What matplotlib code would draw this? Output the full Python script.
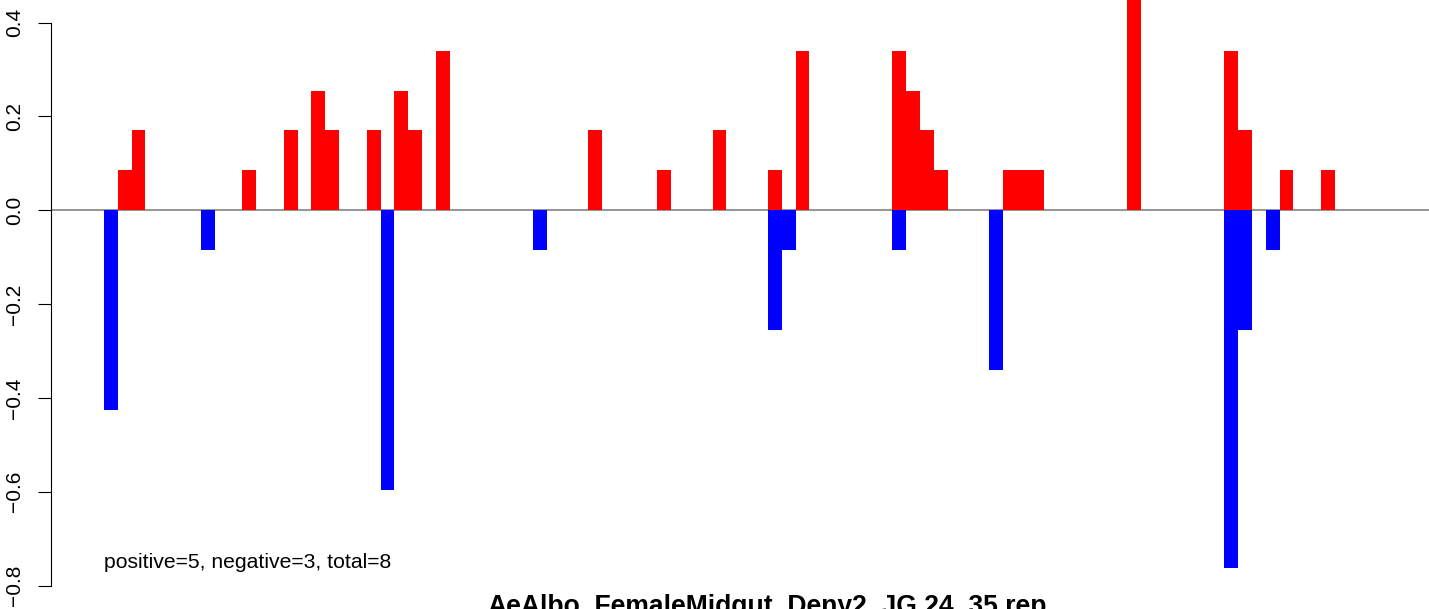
import matplotlib
matplotlib.use("Agg")
import matplotlib.pyplot as plt

plt.rcParams['font.family'] = ['Liberation Sans', 'DejaVu Sans']

# bar slots (one unit per bin) and their values
pos_idx = [1, 2, 10, 13, 15, 16, 19, 21, 22, 24, 35, 40, 44, 48, 50,
           57, 58, 59, 60, 65, 66, 67, 74, 81, 82, 85, 88]
pos_val = [0.085, 0.17, 0.085, 0.17, 0.255, 0.17, 0.17, 0.255, 0.17, 0.34,
           0.17, 0.085, 0.17, 0.085, 0.34, 0.34, 0.255, 0.17, 0.085,
           0.085, 0.085, 0.085, 0.51, 0.34, 0.17, 0.085, 0.085]
neg_idx = [0, 7, 20, 31, 48, 49, 57, 64, 81, 82, 84]
neg_val = [-0.426, -0.085, -0.597, -0.085, -0.256, -0.085, -0.085,
           -0.341, -0.763, -0.256, -0.085]
yticks = [-0.8, -0.6, -0.4, -0.2, 0.0, 0.2, 0.4]
note = "positive=5, negative=3, total=8"
title = "AeAlbo_FemaleMidgut_Deny2_JG.24_35.rep"

W, H = 1429, 609
fig = plt.figure(figsize=(W / 100, H / 100), dpi=100)
ax = fig.add_axes([51 / W, 0, (W - 51) / W, 1])

ax.axhline(0, color='#8c8c8c', lw=1.3, zorder=1)
ax.bar(pos_idx, pos_val, width=1, align='edge', color='#ff0000',
       linewidth=0, zorder=2)
ax.bar(neg_idx, neg_val, width=1, align='edge', color='#0000ff',
       linewidth=0, zorder=2)

ax.set_xlim(-3.83, 95.8)
ax.set_ylim(-0.850, 0.448)

for s in ['top', 'right', 'bottom']:
    ax.spines[s].set_visible(False)
ax.spines['left'].set_bounds(-0.8, 0.4)
ax.spines['left'].set_linewidth(0.8)
ax.set_xticks([])
ax.set_yticks(yticks)
ax.set_yticklabels([f"{v:.1f}".replace('-', '\u2212') for v in yticks],
                   rotation=90, va='center', fontsize=15)
ax.tick_params(axis='y', length=9.5, width=0.8, pad=10)

ax.text(0, min(neg_val), note, ha='left', va='baseline', fontsize=15.2)
# title sits below the visible area in the source, only its top shows
fig.text(767.5 / W, -5 / H, title, ha='center', va='baseline',
         fontsize=19.1, fontweight='bold')

fig.savefig("out.png", dpi=100)
